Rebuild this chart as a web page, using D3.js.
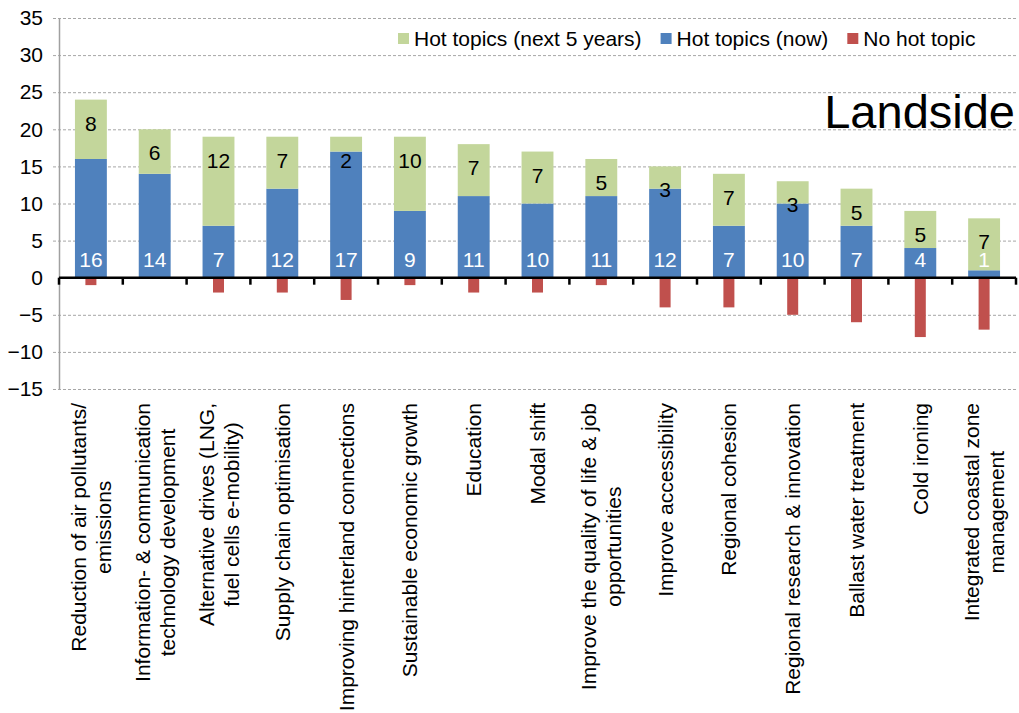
<!DOCTYPE html>
<html>
<head>
<meta charset="utf-8">
<script src="https://cdn.jsdelivr.net/npm/d3@7"></script>
<style>
  html, body { margin: 0; padding: 0; background: #fff; }
  svg { display: block; font-family: "Liberation Sans", Arial, sans-serif; }
</style>
</head>
<body>
<div id="chart"></div>
<script>
// categories, line breaks marked with \n
var categories = [
  'Reduction of air pollutants/\nemissions',
  'Information- & communication\ntechnology development',
  'Alternative drives (LNG,\nfuel cells e-mobility)',
  'Supply chain optimisation',
  'Improving hinterland connections',
  'Sustainable economic growth',
  'Education',
  'Modal shift',
  'Improve the quality of life & job\nopportunities',
  'Improve accessibility',
  'Regional cohesion',
  'Regional research & innovation',
  'Ballast water treatment',
  'Cold ironing',
  'Integrated coastal zone\nmanagement'
];
var hotNow   = [16, 14, 7, 12, 17, 9, 11, 10, 11, 12, 7, 10, 7, 4, 1];
var hotNext  = [8, 6, 12, 7, 2, 10, 7, 7, 5, 3, 7, 3, 5, 5, 7];
var noHot    = [-1, 0, -2, -2, -3, -1, -2, -2, -1, -4, -4, -5, -6, -8, -7];
var yTicks   = [-15, -10, -5, 0, 5, 10, 15, 20, 25, 30, 35];
var legendItems = [
  { label: 'Hot topics (next 5 years)', color: '#c3d69b' },
  { label: 'Hot topics (now)', color: '#4f81bd' },
  { label: 'No hot topic', color: '#c0504d' }
];
var title = 'Landside';

var width = 1019, height = 713;
var fontSize = 21;

var svg = d3.select('#chart').append('svg')
    .attr('width', width)
    .attr('height', height);

var x = d3.scaleBand()
    .domain(categories)
    .range([59, 1016])
    .padding(0);

var y = d3.scaleLinear()
    .domain([-15, 35])
    .range([389, 18]);

var bw = x.bandwidth();

//
// grid lines
//
svg.append('g')
    .attr('class', 'grid')
    .selectAll('line')
    .data(yTicks.filter(function (d) { return d !== 0; }))
    .enter()
    .append('line')
    .attr('x1', 53)
    .attr('x2', 1016)
    .attr('y1', function (d) { return y(d) + 0.5; })
    .attr('y2', function (d) { return y(d) + 0.5; })
    .attr('stroke', '#a6a6a6')
    .attr('stroke-width', 1)
    .attr('stroke-dasharray', '3,2');

//
// y axis
//
var yAxis = svg.append('g')
    .attr('class', 'axis y-axis')
    .attr('transform', 'translate(59,0)')
    .call(d3.axisLeft(y).tickValues(yTicks).tickSize(0).tickPadding(16));

yAxis.select('.domain')
    .attr('stroke', '#a0a0a0')
    .attr('stroke-width', 1.5);

yAxis.selectAll('text')
    .attr('fill', '#000')
    .style('font-size', fontSize + 'px')
    .style('font-family', '"Liberation Sans", Arial, sans-serif');

//
// bars
//
var data = categories.map(function (c, i) {
  return { label: c, now: hotNow[i], next: hotNext[i], no: noHot[i] };
});

var groups = svg.selectAll('g.cat')
    .data(data)
    .enter()
    .append('g')
    .attr('class', 'cat');

groups.append('rect')
    .attr('x', function (d) { return x(d.label) + bw * 0.25; })
    .attr('width', bw * 0.5)
    .attr('y', function (d) { return y(d.now); })
    .attr('height', function (d) { return y(0) - y(d.now); })
    .attr('fill', '#4f81bd');

groups.append('rect')
    .attr('x', function (d) { return x(d.label) + bw * 0.25; })
    .attr('width', bw * 0.5)
    .attr('y', function (d) { return y(d.now + d.next); })
    .attr('height', function (d) { return y(d.now) - y(d.now + d.next); })
    .attr('fill', '#c3d69b');

groups.filter(function (d) { return d.no !== 0; })
    .append('rect')
    .attr('x', function (d) { return x(d.label) + bw / 2 - 5.5; })
    .attr('width', 11)
    .attr('y', y(0))
    .attr('height', function (d) { return y(d.no) - y(0); })
    .attr('fill', '#c0504d');

// value labels
groups.append('text')
    .attr('x', function (d) { return x(d.label) + bw / 2; })
    .attr('y', y(0) - 10.5)
    .attr('text-anchor', 'middle')
    .attr('fill', '#fff')
    .style('font-size', fontSize + 'px')
    .text(function (d) { return d.now; });

groups.append('text')
    .attr('x', function (d) { return x(d.label) + bw / 2; })
    .attr('y', function (d) { return y(d.now + d.next) + 31; })
    .attr('text-anchor', 'middle')
    .attr('fill', '#000')
    .style('font-size', fontSize + 'px')
    .text(function (d) { return d.next; });

//
// x axis
//
var xAxis = svg.append('g')
    .attr('class', 'axis x-axis');

xAxis.append('line')
    .attr('x1', 59)
    .attr('x2', 1016)
    .attr('y1', y(0))
    .attr('y2', y(0))
    .attr('stroke', '#000')
    .attr('stroke-width', 2.5);

xAxis.selectAll('line.tick')
    .data(categories.concat(['end']))
    .enter()
    .append('line')
    .attr('class', 'tick')
    .attr('x1', function (d) { return d === 'end' ? 1016 : x(d); })
    .attr('x2', function (d) { return d === 'end' ? 1016 : x(d); })
    .attr('y1', y(0))
    .attr('y2', y(0) + 7)
    .attr('stroke', '#000')
    .attr('stroke-width', 2.5);

// rotated category labels, lines centred on each other, block ends at y=403
var lineH = 25;
var labels = xAxis.selectAll('g.label')
    .data(categories)
    .enter()
    .append('g')
    .attr('class', 'label')
    .attr('transform', function (d) {
      return 'translate(' + (x(d) + bw / 2) + ',403) rotate(-90)';
    });

labels.each(function (d) {
  var g = d3.select(this)
    , lines = d.split('\n')
    , n = lines.length
    , texts
    , maxW = 0
  ;
  texts = g.selectAll('text')
      .data(lines)
      .enter()
      .append('text')
      .attr('fill', '#000')
      .style('font-size', fontSize + 'px')
      .attr('y', function (l, i) { return 7.5 - (n - 1) * lineH / 2 + i * lineH; })
      .text(function (l) { return l; });
  texts.each(function () {
    maxW = Math.max(maxW, this.getComputedTextLength());
  });
  texts.attr('x', -maxW / 2)
      .attr('text-anchor', 'middle');
});

//
// legend
//
var legend = svg.append('g').attr('class', 'legend');
var lx = 398;
legendItems.forEach(function (item) {
  legend.append('rect')
      .attr('x', lx)
      .attr('y', 33)
      .attr('width', 11)
      .attr('height', 11)
      .attr('fill', item.color);
  var t = legend.append('text')
      .attr('x', lx + 16)
      .attr('y', 46)
      .attr('fill', '#000')
      .style('font-size', fontSize + 'px')
      .text(item.label);
  lx += 16 + t.node().getComputedTextLength() + 19;
});

// title
svg.append('text')
    .attr('x', 1015)
    .attr('y', 128)
    .attr('text-anchor', 'end')
    .attr('fill', '#000')
    .style('font-size', '47px')
    .text(title);
</script>
</body>
</html>
